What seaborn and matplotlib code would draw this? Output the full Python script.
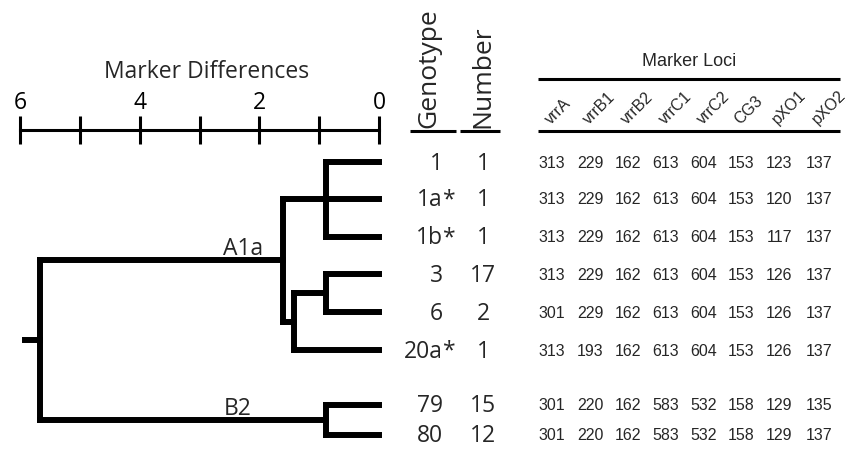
import numpy as np
import pandas as pd
import matplotlib
matplotlib.use("Agg")
import matplotlib.pyplot as plt
import seaborn as sns

# ---------------- data ----------------
genotypes = ["1", "1a*", "1b*", "3", "6", "20a*", "79", "80"]
isolate_numbers = [1, 1, 1, 17, 2, 1, 15, 12]
loci = ["vrrA", "vrrB1", "vrrB2", "vrrC1", "vrrC2", "CG3", "pXO1", "pXO2"]
vrrA = [313, 313, 313, 313, 301, 313, 301, 301]
vrrB1 = [229, 229, 229, 229, 229, 193, 220, 220]
vrrB2 = [162, 162, 162, 162, 162, 162, 162, 162]
vrrC1 = [613, 613, 613, 613, 613, 613, 583, 583]
vrrC2 = [604, 604, 604, 604, 604, 604, 532, 532]
CG3 = [153, 153, 153, 153, 153, 153, 158, 158]
pXO1 = [123, 120, 117, 126, 126, 126, 129, 129]
pXO2 = [137, 137, 137, 137, 137, 137, 135, 137]
allele_columns = [vrrA, vrrB1, vrrB2, vrrC1, vrrC2, CG3, pXO1, pXO2]

# dendrogram merges: name, children (leaf index or node name), marker difference
merge_names = ["U", "L1", "L2", "A1a", "B2", "root"]
merge_children = [[0, 1, 2], [3, 4], ["L1", 5], ["U", "L2"], [6, 7], ["A1a", "B2"]]
merge_heights = [0.88, 0.88, 1.42, 1.60, 0.88, 5.67]
cluster_labels = ["A1a", "B2"]

scale_ticks = [0, 1, 2, 3, 4, 5, 6]
scale_ticklabels = ["0", "", "2", "", "4", "", "6"]

# ---------------- layout (pixels) ----------------
W, H = 852, 449
row_px = [162, 199, 237, 274, 312, 350, 405, 435]
px_per_unit = 59.8
zero_px = 379
col_px = [552, 590, 628, 666, 704, 741, 779, 819]
geno_right_px = 443
number_center_px = 483

sns.set_theme(style="white")
plt.rcParams["font.family"] = ["Open Sans", "DejaVu Sans"]
MYR = ["Open Sans", "DejaVu Sans"]
ARL = ["Liberation Sans", "DejaVu Sans"]

fig = plt.figure(figsize=(W / 100, H / 100), dpi=100)
fig.patch.set_facecolor("white")

# ---------- dendrogram axes ----------
ax_left_px, ax_right_px, ax_top_px = 0, 400, 130
ax = fig.add_axes([ax_left_px / W, 0, (ax_right_px - ax_left_px) / W, (H - ax_top_px) / H])
ax.set_facecolor("none")
ax.set_xlim((zero_px - ax_left_px) / px_per_unit, (zero_px - ax_right_px) / px_per_unit)
ax.set_ylim(H, ax_top_px)

# build segments of the tree
node_y = {}
node_h = {}
for i, y in enumerate(row_px):
    node_y[i] = y
    node_h[i] = 0.0
segs = []
sid = 0
for name, kids, h in zip(merge_names, merge_children, merge_heights):
    ys = [node_y[k] for k in kids]
    y_node = float(np.mean(ys))
    node_y[name] = y_node
    node_h[name] = h
    segs.append((sid, [h, h], [min(ys), max(ys)])); sid += 1
    for k in kids:
        segs.append((sid, [node_h[k], h], [node_y[k], node_y[k]])); sid += 1
segs.append((sid, [node_h["root"], node_h["root"] + 0.25], [node_y["root"], node_y["root"]]))

rows = []
for s, xs, ys in segs:
    for xv, yv in zip(xs, ys):
        rows.append({"seg": s, "x": xv, "y": yv})
df = pd.DataFrame(rows)
sns.lineplot(data=df, x="x", y="y", units="seg", estimator=None, sort=False,
             color="black", linewidth=4.3, solid_capstyle="projecting", ax=ax)

# scale bar as top spine
for sp in ["left", "right", "bottom"]:
    ax.spines[sp].set_visible(False)
ax.spines["top"].set_visible(True)
ax.spines["top"].set_color("black")
ax.spines["top"].set_linewidth(2.2)
ax.spines["top"].set_bounds(0, 6)
ax.xaxis.tick_top()
ax.set_xticks(scale_ticks)
ax.set_xticklabels(scale_ticklabels, fontfamily=MYR)
ax.tick_params(axis="x", top=True, bottom=False, direction="inout", length=19.5,
               width=2.2, color="black", labelsize=16.5, pad=1.0, labelcolor="black")
ax.set_yticks([])
ax.set_xlabel("")
ax.set_ylabel("")
ax.grid(False)
ax.text((zero_px - 207) / px_per_unit, 78, "Marker Differences", ha="center",
        va="baseline", fontsize=16.5, family=MYR, clip_on=False)

# cluster labels
ax.text(node_h["A1a"] + 0.34, node_y["A1a"] - 5, cluster_labels[0], ha="right",
        va="baseline", fontsize=16.5, family=MYR)
ax.text(2.37, node_y["B2"] - 5, cluster_labels[1], ha="center",
        va="baseline", fontsize=16.5, family=MYR)

# ---------- overlay axes for table ----------
ax2 = fig.add_axes([0, 0, 1, 1])
ax2.set_xlim(0, W)
ax2.set_ylim(H, 0)
ax2.axis("off")
ax2.set_facecolor("none")

# headers
ax2.text(429, 128, "Genotype", rotation=90, ha="center", va="bottom",
         fontsize=19, family=MYR)
ax2.text(number_center_px, 128, "Number", rotation=90, ha="center", va="bottom",
         fontsize=19, family=MYR)
ax2.plot([410, 456], [131, 131], color="black", lw=2.2, solid_capstyle="butt")
ax2.plot([460, 500], [131, 131], color="black", lw=2.2, solid_capstyle="butt")

ax2.text((538 + 840) / 2, 66, "Marker Loci", ha="center", va="baseline",
         fontsize=13, family=ARL)
ax2.plot([538, 840], [79, 79], color="black", lw=2.2, solid_capstyle="butt")
ax2.plot([538, 840], [131, 131], color="black", lw=2.2, solid_capstyle="butt")
for cx, name in zip(col_px, loci):
    ax2.text(cx - 1, 125, name, rotation=45, rotation_mode="anchor", ha="left",
             va="baseline", fontsize=11.5, family=ARL)

# rows: genotype and isolate number
for ry, g, n in zip(row_px, genotypes, isolate_numbers):
    base = g.rstrip("*")
    ax2.text(geno_right_px, ry + 7.5, base, ha="right", va="baseline",
             fontsize=16.5, family=MYR)
    if g.endswith("*"):
        ax2.text(geno_right_px, ry + 7.5, "*", ha="left", va="baseline",
                 fontsize=16.5, family=MYR)
    ax2.text(number_center_px, ry + 7.5, str(n), ha="center", va="baseline",
             fontsize=16.5, family=MYR)

# allele table
for cx, col in zip(col_px, allele_columns):
    for ry, v in zip(row_px, col):
        ax2.text(cx, ry + 5.5, str(v), ha="center", va="baseline",
                 fontsize=11.5, family=ARL)

fig.savefig("out.png", dpi=100, facecolor="white")
